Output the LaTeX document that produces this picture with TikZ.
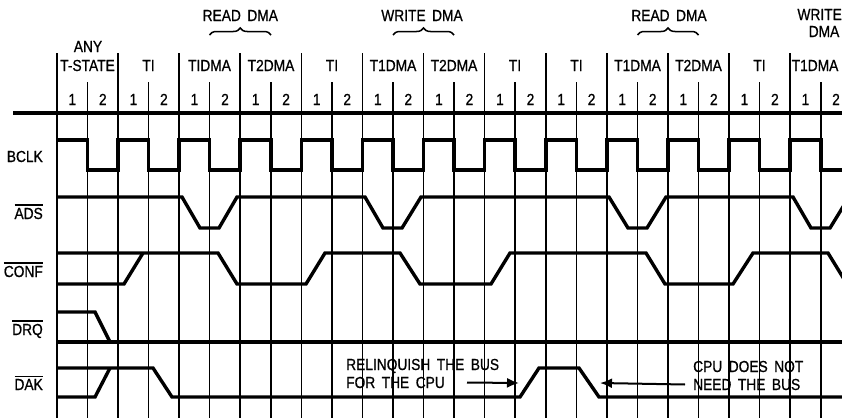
\documentclass[tikz,border=0pt]{standalone}
\usepackage{fontspec}
\setmainfont{Liberation Sans}[FakeStretch=0.86, FakeBold=0.8]
\usetikzlibrary{arrows.meta}
\usetikzlibrary{decorations.pathreplacing}
\tikzset{>=latex}
\tikzset{txt/.style = {font=\fontsize{16}{19}\selectfont, inner sep=0pt, anchor=base}}
\tikzset{sname/.style = {txt, anchor=base east}}
\tikzset{note/.style = {txt, anchor=base west}}
\tikzset{wave/.style = {line width=3.4pt}}
\tikzset{major/.style = {line width=1.2pt}}
\tikzset{minor/.style = {line width=1.2pt}}
\tikzset{cbrace/.style = {decorate, decoration={brace, amplitude=7pt}, line width=1.5pt}}
\tikzset{edge/.style = {-{Latex[length=12pt,width=10pt]}, line width=2pt}}
\newcommand{\lowact}[1]{\sbox0{#1}\rlap{\rule[\dimexpr\ht0+2pt\relax]{\wd0}{1.5pt}}\usebox0}

\begin{document}
\begin{tikzpicture}[x=1pt, y=-1pt]
                \clip (0,0) rectangle (842,418);
                \draw[major] (57,53) -- (57,418);
                \draw[minor] (87.5,82) -- (87.5,418);
                \draw[major] (118,53) -- (118,418);
                \draw[minor] (148.5,82) -- (148.5,418);
                \draw[major] (179,53) -- (179,418);
                \draw[minor] (209.5,82) -- (209.5,418);
                \draw[major] (240,53) -- (240,418);
                \draw[minor] (271,82) -- (271,418);
                \draw[major] (301.5,53) -- (301.5,418);
                \draw[minor] (332,82) -- (332,418);
                \draw[major] (362.5,53) -- (362.5,418);
                \draw[minor] (393,82) -- (393,418);
                \draw[major] (423.5,53) -- (423.5,418);
                \draw[minor] (454,82) -- (454,418);
                \draw[major] (484.5,53) -- (484.5,418);
                \draw[minor] (515,82) -- (515,418);
                \draw[major] (546,53) -- (546,418);
                \draw[minor] (576.5,82) -- (576.5,418);
                \draw[major] (607,53) -- (607,418);
                \draw[minor] (637.5,82) -- (637.5,418);
                \draw[major] (668,53) -- (668,418);
                \draw[minor] (698.5,82) -- (698.5,418);
                \draw[major] (729,53) -- (729,418);
                \draw[minor] (759.5,82) -- (759.5,418);
                \draw[major] (790,53) -- (790,418);
                \draw[minor] (821,82) -- (821,418);
                \draw[wave] (13,113) -- (842,113);
                \node[txt] (any) at (88,52) {ANY};
                \node[txt] (tstate) at (87.5,71) {T-STATE};
                \node[txt] (ti1) at (148.5,71) {TI};
                \node[txt] (dma1) at (209.5,71) {TIDMA};
                \node[txt] (dma2) at (271,71) {T2DMA};
                \node[txt] (ti2) at (332,71) {TI};
                \node[txt] (dma3) at (393,71) {T1DMA};
                \node[txt] (dma4) at (454,71) {T2DMA};
                \node[txt] (ti3) at (515,71) {TI};
                \node[txt] (ti4) at (576.5,71) {TI};
                \node[txt] (dma5) at (637.5,71) {T1DMA};
                \node[txt] (dma6) at (698.5,71) {T2DMA};
                \node[txt] (ti5) at (759.5,71) {TI};
                \node[txt] (dma7) at (815,71) {T1DMA};
                \node[txt] (read1) at (240.3,21) {READ\, DMA};
                \draw[cbrace] (dma1 |- 0,35) -- (dma2 |- 0,35);
                \node[txt] (write1) at (422,21) {WRITE\, DMA};
                \draw[cbrace] (dma3 |- 0,35) -- (dma4 |- 0,35);
                \node[txt] (read2) at (669,21) {READ\, DMA};
                \draw[cbrace] (dma5 |- 0,35) -- (dma6 |- 0,35);
                \node[txt, anchor=base east] (write2) at (842,20) {WRITE};
                \node[txt] (write2b) at (824,37) {DMA};
                \node[txt] (p0) at (72.3,105) {1};
                \node[txt] (p1) at (102.8,105) {2};
                \node[txt] (p2) at (133.4,105) {1};
                \node[txt] (p3) at (163.9,105) {2};
                \node[txt] (p4) at (194.5,105) {1};
                \node[txt] (p5) at (225,105) {2};
                \node[txt] (p6) at (255.6,105) {1};
                \node[txt] (p7) at (286.1,105) {2};
                \node[txt] (p8) at (316.7,105) {1};
                \node[txt] (p9) at (347.2,105) {2};
                \node[txt] (p10) at (377.8,105) {1};
                \node[txt] (p11) at (408.3,105) {2};
                \node[txt] (p12) at (438.9,105) {1};
                \node[txt] (p13) at (469.4,105) {2};
                \node[txt] (p14) at (500,105) {1};
                \node[txt] (p15) at (530.5,105) {2};
                \node[txt] (p16) at (561.1,105) {1};
                \node[txt] (p17) at (591.6,105) {2};
                \node[txt] (p18) at (622.2,105) {1};
                \node[txt] (p19) at (652.7,105) {2};
                \node[txt] (p20) at (683.3,105) {1};
                \node[txt] (p21) at (713.8,105) {2};
                \node[txt] (p22) at (744.4,105) {1};
                \node[txt] (p23) at (774.9,105) {2};
                \node[txt] (p24) at (805.5,105) {1};
                \node[txt] (p25) at (836,105) {2};
                \node[sname] (bclk) at (43,162) {BCLK};
                \draw[wave] (57,140) -| (87.5,170) -| (118,140) -| (148.5,170) -| (179,140) -| (209.5,170) -| (240,140) -| (271,170) -| (301.5,140) -| (332,170) -| (362.5,140) -| (393,170) -| (423.5,140) -| (454,170) -| (484.5,140) -| (515,170) -| (546,140) -| (576.5,170) -| (607,140) -| (637.5,170) -| (668,140) -| (698.5,170) -| (729,140) -| (759.5,170) -| (790,140) -| (821,170) -- (850,170);
                \node[sname] (ads) at (43,219) {\lowact{ADS}};
                \draw[wave] (57,197) -- (182,197) -- (200,228) -- (219,228) -- (237,197) -- (365,197) -- (383,228) -- (402,228) -- (421,197) -- (609,197) -- (628,228) -- (647,228) -- (666,197) -- (793,197) -- (811,228) -- (830,228) -- (849,197);
                \node[sname] (conf) at (43,277) {\lowact{CONF}};
                \draw[wave] (57,284) -- (124,284) -- (143,253);
                \draw[wave] (57,253) -- (218,253) -- (237,284) -- (306,284) -- (325,253) -- (400,253) -- (420,284) -- (491,284) -- (510,253) -- (646,253) -- (665,284) -- (733,284) -- (753,253) -- (828,253) -- (847,284);
                \node[sname] (drq) at (43,335) {\lowact{DRQ}};
                \draw[wave] (57,312) -- (95,312) -- (110,342);
                \draw[wave] (57,342) -- (842,342);
                \node[sname] (dak) at (43,390) {\lowact{DAK}};
                \draw[wave] (57,397) -- (95,397) -- (110,368);
                \draw[wave] (57,368) -- (153,368) -- (172,397) -- (520,397) -- (539,368) -- (579,368) -- (599,397) -- (850,397);
                \node[note] (rel1) at (346,370) {RELINQUISH\, THE\, BUS};
                \node[note] (rel2) at (346,388) {FOR\, THE\, CPU};
                \coordinate (relend) at (519,383);
                \draw[edge] ([xshift=22pt]rel2.east) -- (relend);
                \node[note] (cpu1) at (693,372) {CPU\, DOES\, NOT};
                \node[note] (cpu2) at (693,390) {NEED\, THE\, BUS};
                \coordinate (cpuend) at (600,383);
                \draw[edge] ([xshift=-8pt]cpu2.west) -- (cpuend);
            \end{tikzpicture}
\end{document}
